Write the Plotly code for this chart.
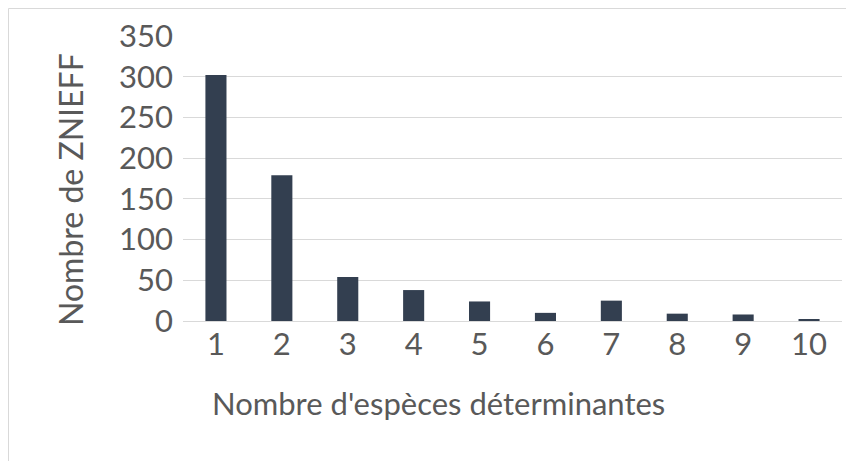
import plotly.graph_objects as go

categories = ["1", "2", "3", "4", "5", "6", "7", "8", "9", "10"]
values = [302, 179, 54, 38, 24, 10, 25, 9, 8, 2]
y_ticks = [0, 50, 100, 150, 200, 250, 300, 350]

W, H = 846, 461
L, R, T, B = 183, 4, 36, 140
pw, ph = W - L - R, H - T - B

def px(x):
    return (x - L) / pw

def py(y):
    return (H - B - y) / ph

FONT = "Lato"
TXT = "#595959"

fig = go.Figure(go.Bar(x=categories, y=values, marker_color="#333F50", marker_line_width=0))

fig.update_layout(
    width=W, height=H,
    margin=dict(l=L, r=R, t=T, b=B),
    paper_bgcolor="white", plot_bgcolor="white",
    bargap=0.68,
    showlegend=False,
    font=dict(family=FONT, color=TXT),
)
fig.update_xaxes(type="category", showgrid=False, showline=False, ticks="",
                 tickfont=dict(size=31, color=TXT, family=FONT), ticklabelstandoff=2)
fig.update_yaxes(range=[0, 350], tickvals=y_ticks, showgrid=True, gridcolor="#D9D9D9",
                 gridwidth=1, zeroline=True, zerolinecolor="#D9D9D9", zerolinewidth=1,
                 showline=False, ticks="", tickfont=dict(size=31, color=TXT, family=FONT),
                 ticklabelstandoff=9)

fig.add_annotation(text="Nombre de ZNIEFF", xref="paper", yref="paper",
                   x=px(70), y=py(190), showarrow=False, textangle=-90,
                   font=dict(size=32, color=TXT, family=FONT), xanchor="center", yanchor="middle")
fig.add_annotation(text="Nombre d'espèces déterminantes", xref="paper", yref="paper",
                   x=px(438), y=py(403), showarrow=False,
                   font=dict(size=31, color=TXT, family=FONT), xanchor="center", yanchor="middle")

fig.add_shape(type="rect", xref="paper", yref="paper",
              x0=px(8.5), x1=px(900), y0=py(8.5), y1=py(500),
              line=dict(color="#D9D9D9", width=1), fillcolor="rgba(0,0,0,0)", layer="below")

fig.write_html("out.html")
